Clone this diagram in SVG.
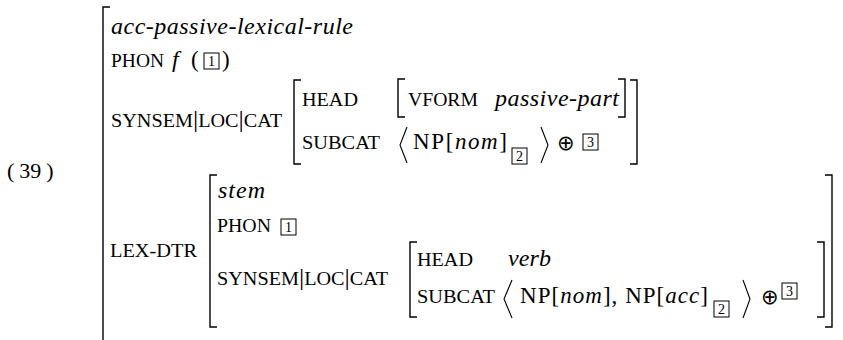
<svg xmlns="http://www.w3.org/2000/svg" width="843" height="340" viewBox="0 0 843 340">
<style>
text{font-family:"Liberation Serif",serif;fill:#000}
.n{font-size:23px}
.it{font-size:24px;font-style:italic}
.sc{font-size:18.5px}
.bar{font-size:24px}
.op{font-family:"DejaVu Sans",sans-serif;font-size:21px}
.tag{font-size:14px;text-anchor:middle}
.br{fill:none;stroke:#000;stroke-width:1.4}
.ang{fill:none;stroke:#000;stroke-width:1.1}
.box{fill:none;stroke:#000;stroke-width:1}
</style>
<rect width="843" height="340" fill="#fff"/>
<g id="example-number">
<text x="7" y="178" font-size="22">(<tspan dx="5">39</tspan><tspan dx="5">)</tspan></text>
</g>
<g id="outer-avm">
<path class="br" d="M110,7 H103 V345"/>
<text class="it" x="111" y="34" textLength="242" lengthAdjust="spacing">acc-passive-lexical-rule</text>
<text class="sc" x="111" y="67" textLength="53" lengthAdjust="spacingAndGlyphs">PHON</text>
<text class="it" x="172" y="67" font-size="26">f</text>
<text class="n" x="191" y="67">(</text>
<rect class="box" x="204" y="53" width="15" height="16"/>
<text class="tag" x="211.5" y="66">1</text>
<text class="n" x="222" y="67">)</text>
<text x="111" y="127" textLength="171" lengthAdjust="spacingAndGlyphs"><tspan class="sc">SYNSEM</tspan><tspan class="bar">|</tspan><tspan class="sc">LOC</tspan><tspan class="bar">|</tspan><tspan class="sc">CAT</tspan></text>
</g>
<g id="upper-cat">
<path class="br" d="M301,80 H294 V164 H301"/>
<path class="br" d="M630,80 H637 V164 H630"/>
<text class="sc" x="302" y="106" textLength="56" lengthAdjust="spacingAndGlyphs">HEAD</text>
<path class="br" d="M405,79 H398 V117 H405"/>
<path class="br" d="M618,79 H625 V117 H618"/>
<text class="sc" x="408" y="106" textLength="70" lengthAdjust="spacingAndGlyphs">VFORM</text>
<text class="it" x="495" y="106" textLength="124" lengthAdjust="spacing">passive-part</text>
<text class="sc" x="302" y="149" textLength="78" lengthAdjust="spacingAndGlyphs">SUBCAT</text>
<path class="ang" d="M407,127 L400,145 L407,163"/>
<text class="n" x="413" y="149" textLength="94" lengthAdjust="spacing">NP[<tspan font-style="italic">nom</tspan>]</text>
<rect class="box" x="512" y="148" width="15" height="16"/>
<text class="tag" x="519.5" y="161">2</text>
<path class="ang" d="M541,127 L548,145 L541,163"/>
<text class="op" x="557" y="150">⊕</text>
<rect class="box" x="583" y="134" width="15" height="16"/>
<text class="tag" x="590.5" y="147">3</text>
</g>
<g id="lex-dtr">
<text class="sc" x="110" y="257" textLength="87" lengthAdjust="spacingAndGlyphs">LEX-DTR</text>
<path class="br" d="M217,175 H210 V327 H217"/>
<path class="br" d="M825,175 H832 V327 H825"/>
<text class="it" x="218" y="198" textLength="47" lengthAdjust="spacing">stem</text>
<text class="sc" x="217" y="232" textLength="54" lengthAdjust="spacingAndGlyphs">PHON</text>
<rect class="box" x="281" y="219" width="15" height="16"/>
<text class="tag" x="288.5" y="232">1</text>
<text x="217" y="285" textLength="171" lengthAdjust="spacingAndGlyphs"><tspan class="sc">SYNSEM</tspan><tspan class="bar">|</tspan><tspan class="sc">LOC</tspan><tspan class="bar">|</tspan><tspan class="sc">CAT</tspan></text>
</g>
<g id="lower-cat">
<path class="br" d="M417,242 H410 V317 H417"/>
<path class="br" d="M817,242 H824 V317 H817"/>
<text class="sc" x="417" y="266" textLength="56" lengthAdjust="spacingAndGlyphs">HEAD</text>
<text class="it" x="508" y="266" textLength="43" lengthAdjust="spacing">verb</text>
<text class="sc" x="417" y="303" textLength="78" lengthAdjust="spacingAndGlyphs">SUBCAT</text>
<path class="ang" d="M512,280 L504,299 L512,318"/>
<text class="n" x="520" y="303" textLength="188" lengthAdjust="spacing">NP[<tspan font-style="italic">nom</tspan>], NP[<tspan font-style="italic">acc</tspan>]</text>
<rect class="box" x="714" y="301" width="15" height="16"/>
<text class="tag" x="721.5" y="314">2</text>
<path class="ang" d="M743,280 L750,299 L743,318"/>
<text class="op" x="761" y="304">⊕</text>
<rect class="box" x="782" y="283" width="15" height="16"/>
<text class="tag" x="789.5" y="296">3</text>
</g>
</svg>
